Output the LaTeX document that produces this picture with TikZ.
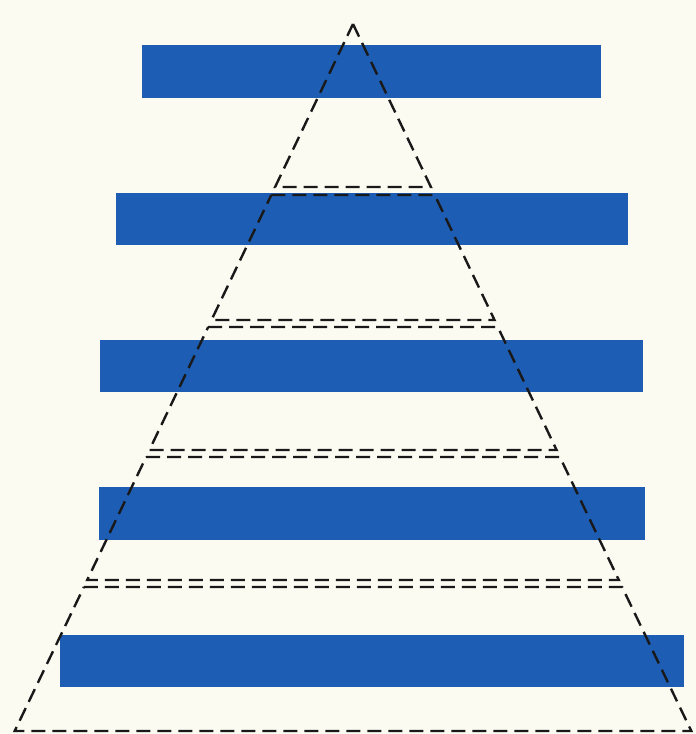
\documentclass[tikz,border=0pt]{standalone}
\definecolor{bg}{RGB}{252,251,242}
\definecolor{barblue}{RGB}{30,93,180}
\tikzset{
  barbox/.style={fill=barblue, draw=none},
  seg/.style={draw=black!90, line width=2.4pt, dash pattern=on 14pt off 7pt, line join=miter},
}
\begin{document}
\begin{tikzpicture}[x=1pt,y=-1pt]
\fill[bg] (0,0) rectangle (696,734);
\useasboundingbox (0,0) rectangle (696,734);
% bars
\fill[barbox] (142,45) rectangle (601,98);
\fill[barbox] (116,193) rectangle (628,245);
\fill[barbox] (100,340) rectangle (643,392);
\fill[barbox] (99,487) rectangle (645,540);
\fill[barbox] (60,635) rectangle (684,687);
% pyramid segments (apex at 353,24; half-width = 0.478*(y-24))
\coordinate (apex) at (353,24);
\coordinate (s1l) at (275.1,187); \coordinate (s1r) at (430.9,187);
\coordinate (s2tl) at (271.3,195); \coordinate (s2tr) at (434.7,195);
\coordinate (s2bl) at (211.5,320); \coordinate (s2br) at (494.5,320);
\coordinate (s3tl) at (208.2,327); \coordinate (s3tr) at (497.8,327);
\coordinate (s3bl) at (149.4,450); \coordinate (s3br) at (556.6,450);
\coordinate (s4tl) at (146.1,457); \coordinate (s4tr) at (559.9,457);
\coordinate (s4bl) at (87.2,580); \coordinate (s4br) at (618.8,580);
\coordinate (s5tl) at (83.9,587); \coordinate (s5tr) at (622.1,587);
\coordinate (s5bl) at (14.7,731); \coordinate (s5br) at (691.3,731);
\draw[seg] (apex) -- (s1r) -- (s1l) -- cycle;
\draw[seg] (s2tl) -- (s2tr) -- (s2br) -- (s2bl) -- cycle;
\draw[seg] (s3tl) -- (s3tr) -- (s3br) -- (s3bl) -- cycle;
\draw[seg] (s4tl) -- (s4tr) -- (s4br) -- (s4bl) -- cycle;
\draw[seg] (s5tl) -- (s5tr) -- (s5br) -- (s5bl) -- cycle;
\end{tikzpicture}
\end{document}
